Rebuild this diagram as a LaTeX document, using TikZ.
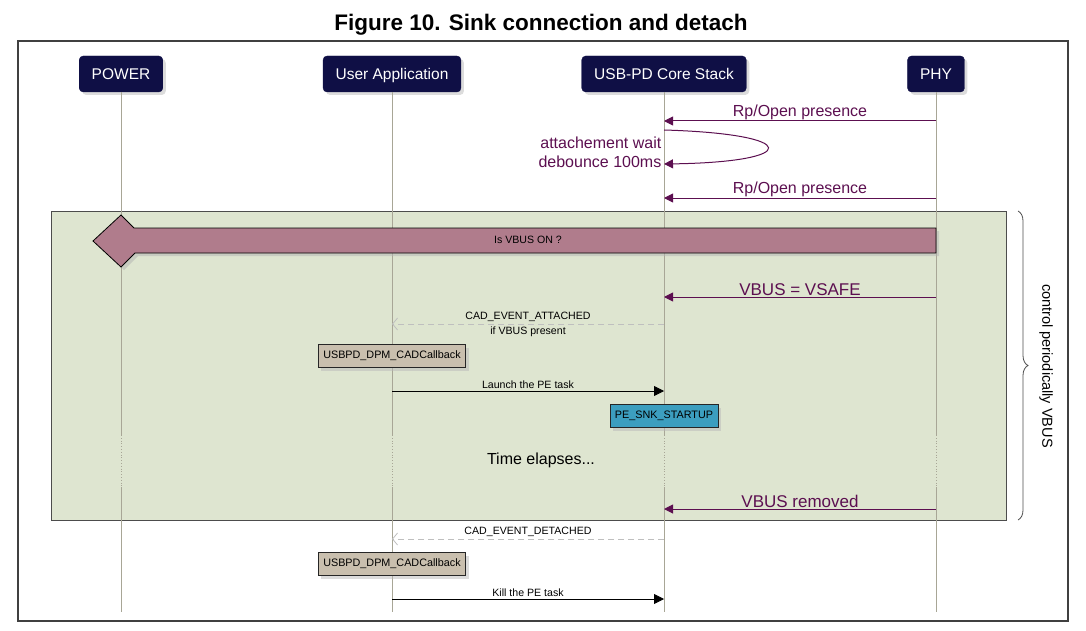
\documentclass[tikz,border=0pt]{standalone}
\usepackage{fontspec}
\setmainfont{Liberation Sans}
\usetikzlibrary{arrows.meta, positioning, shadows, decorations.pathreplacing}
\definecolor{headnavy}{HTML}{0F0F45}
\definecolor{lifegray}{HTML}{A8A696}
\definecolor{msgpurple}{HTML}{5C0F50}
\definecolor{groupgreen}{HTML}{DEE5D0}
\definecolor{vbusmauve}{HTML}{B07C8C}
\definecolor{cbtan}{HTML}{C9BFAE}
\definecolor{peteal}{HTML}{3C9EBF}

\begin{document}
\begin{tikzpicture}[x=1pt, y=-1pt,
        head/.style={rectangle, draw=headnavy, fill=headnavy, text=white, rounded corners=4pt, minimum height=36pt, inner xsep=12.5pt, text height=13pt, text depth=2pt, font=\fontsize{15.5}{18}\selectfont, drop shadow={shadow xshift=3pt, shadow yshift=-3pt, fill=gray!55}},
        life/.style={draw=lifegray, line width=0.8pt},
        lifedot/.style={draw=lifegray, line width=0.8pt, dotted},
        msg/.style={draw=msgpurple, line width=1pt, -{Triangle[length=9pt, width=9pt]}},
        msglbl/.style={text=msgpurple, font=\fontsize{16}{19}\selectfont, inner sep=0.5pt},
        bigmsglbl/.style={text=msgpurple, font=\fontsize{17}{20}\selectfont, inner sep=0.5pt},
        call/.style={draw=black, line width=0.8pt, -{Triangle[length=10pt, width=10pt]}},
        ret/.style={draw=gray!50, line width=0.8pt, dash pattern=on 6pt off 4pt, -{Straight Barb[length=5pt, width=12pt]}},
        smalllbl/.style={font=\fontsize{10.6}{12.5}\selectfont, inner sep=1pt},
        statebox/.style={rectangle, draw=black!85, line width=0.8pt, minimum height=23pt, inner xsep=5pt, font=\fontsize{10.8}{12.5}\selectfont, drop shadow={shadow xshift=3pt, shadow yshift=-3pt, fill=gray!55}}]

    \useasboundingbox (0,0) rectangle (1086,631);

    % title and frame
    \node[font=\fontsize{22.5}{26}\selectfont\bfseries] (title) at (541,25) {Figure 10. Sink connection and detach};
    \draw[draw=black!75, line width=1.2pt] (18,41) rectangle (1068,621);

    % group box
    \draw[draw=black!70, fill=groupgreen, line width=0.8pt] (51,211) rectangle (1006,520);

    % participants
    \node[head] (power) at (121,74) {POWER};
    \node[head] (app) at (392,74) {User Application};
    \node[head] (core) at (664,74) {USB-PD Core Stack};
    \node[head] (phy) at (936,74) {PHY};

    % lifelines
    \foreach \p in {power, app, core, phy} {
        \draw[life] (\p.south) -- (\p.south |- 0,435);
        \draw[lifedot] (\p.south |- 0,435) -- (\p.south |- 0,487);
        \draw[life] (\p.south |- 0,487) -- (\p.south |- 0,612);
    }

    % attach detection
    \draw[msg] (phy.south |- 0,121) -- node[msglbl, above] {Rp/Open presence} (core.south |- 0,121);
    \coordinate (loopA) at (core.south |- 0,130);
    \coordinate (loopB) at (core.south |- 0,164);
    \draw[msg] (loopA) .. controls (802,134) and (802,162) .. (loopB);
    \node[msglbl, anchor=east, align=right] (debounce) at (662,152) {attachement wait\\debounce 100ms};
    \draw[msg] (phy.south |- 0,198) -- node[msglbl, above] {Rp/Open presence} (core.south |- 0,198);

    % Is VBUS ON ?
    \path[draw=black, fill=vbusmauve, line width=0.8pt, drop shadow={shadow xshift=3pt, shadow yshift=-3pt, fill=gray!60}]
        (93,241) -- (121,215) -- (134,228) -- (936,228) -- (936,253) -- (135,253) -- (121,267) -- cycle;
    \node[smalllbl] (vbuson) at (528,240) {Is VBUS ON ?};

    \draw[msg] (phy.south |- 0,297) -- node[bigmsglbl, above] {VBUS = VSAFE} (core.south |- 0,297);
    \draw[ret] (core.south |- 0,324) -- node[smalllbl, above=1pt] {CAD\_EVENT\_ATTACHED} node[smalllbl, below=1pt] {if VBUS present} (app.south |- 0,324);
    \node[statebox, fill=cbtan] (cb1) at (392,356) {USBPD\_DPM\_CADCallback};
    \draw[call] (app.south |- 0,391) -- node[smalllbl, above=1pt] {Launch the PE task} (core.south |- 0,391);
    \node[statebox, fill=peteal] (startup) at (664,416) {PE\_SNK\_STARTUP};

    \node[font=\fontsize{16}{19}\selectfont] (elapse) at (541,460) {Time elapses...};

    \draw[msg] (phy.south |- 0,509) -- node[bigmsglbl, above] {VBUS removed} (core.south |- 0,509);

    % brace
    \draw[draw=black!70, line width=0.8pt, decorate, decoration={brace, amplitude=10pt}] (1018,211) -- (1018,520);
    \node[rotate=-90, font=\fontsize{14.5}{17}\selectfont] (periodic) at (1046,366) {control periodically VBUS};

    % detach
    \draw[ret] (core.south |- 0,539) -- node[smalllbl, above=1pt] {CAD\_EVENT\_DETACHED} (app.south |- 0,539);
    \node[statebox, fill=cbtan] (cb2) at (392,564) {USBPD\_DPM\_CADCallback};
    \draw[call] (app.south |- 0,599) -- node[smalllbl, above=1pt] {Kill the PE task} (core.south |- 0,599);
\end{tikzpicture}
\end{document}
